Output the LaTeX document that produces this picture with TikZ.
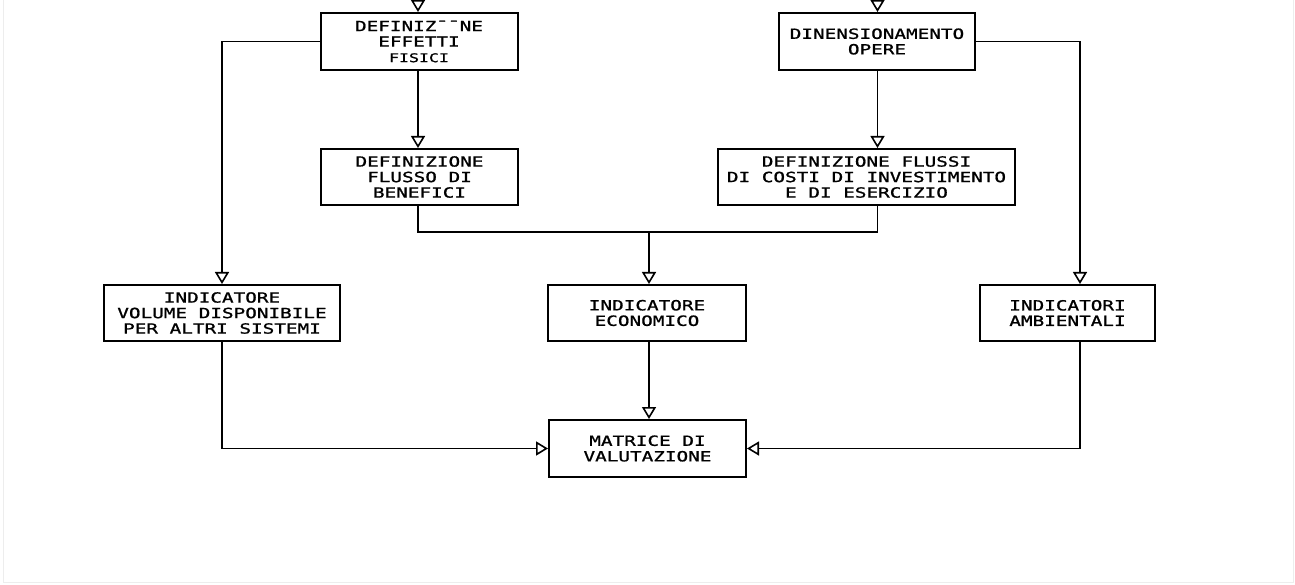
\documentclass[tikz,border=0pt]{standalone}
\usepackage{fontspec}
\newfontfamily\cad[FakeStretch=1.38,FakeBold=1.2]{DejaVu Sans Mono}
\usetikzlibrary{arrows.meta}
\begin{document}
\begin{tikzpicture}[x=1pt,y=-1pt,
  box/.style={draw,line width=2pt,rectangle,inner sep=0pt,align=center,
    font=\cad\fontsize{14}{15.5}\selectfont},
  arr/.style={line width=1.8pt,-{Triangle[open,length=12pt,width=14pt,line width=1.6pt]}},
  ln/.style={line width=1.8pt}]
\useasboundingbox (0,0) rectangle (1295,585);
\draw[black!7,line width=1pt] (3,0) -- (3,582) -- (1293,582) -- (1293,0);

\node[box,minimum width=197pt,minimum height=57pt] (b1) at (419,41.5)
  {DEFINIZ¯¯NE\\EFFETTI\\{\fontsize{12}{13}\selectfont FISICI}};
\node[box,minimum width=196pt,minimum height=57pt] (b2) at (877,41.5)
  {DINENSIONAMENTO\\OPERE};
\node[box,minimum width=197pt,minimum height=56pt] (b3) at (419.5,177)
  {DEFINIZIONE\\FLUSSO DI\\BENEFICI};
\node[box,minimum width=297pt,minimum height=56pt] (b4) at (866.5,177)
  {DEFINIZIONE FLUSSI\\DI COSTI DI INVESTIMENTO\\E DI ESERCIZIO};
\node[box,minimum width=236pt,minimum height=56pt] (b5) at (222,313)
  {INDICATORE\\VOLUME DISPONIBILE\\PER ALTRI SISTEMI};
\node[box,minimum width=198pt,minimum height=56pt] (b6) at (647,313)
  {INDICATORE\\ECONOMICO};
\node[box,minimum width=175pt,minimum height=56pt] (b7) at (1067.5,313)
  {INDICATORI\\AMBIENTALI};
\node[box,minimum width=197pt,minimum height=57pt] (b8) at (647.5,448.5)
  {MATRICE DI\\VALUTAZIONE};

\coordinate (in1) at (418,0);
\coordinate (in2) at (877.5,0);
\coordinate (j) at (649,232);
\coordinate (xr) at (1080,0);

\draw[arr] (in1) -- (in1 |- b1.north);
\draw[arr] (in2) -- (in2 |- b2.north);
\draw[arr] (in1 |- b1.south) -- (in1 |- b3.north);
\draw[arr] (b1.west) -| (b5.north);
\draw[arr] (in2 |- b2.south) -- (in2 |- b4.north);
\draw[arr] (b2.east) -| (xr |- b7.north);
\draw[ln] (in1 |- b3.south) |- (j) -| (in2 |- b4.south);
\draw[arr] (j) -- (j |- b6.north);
\draw[arr] (j |- b6.south) -- (j |- b8.north);
\draw[arr] (b5.south) |- (b8.west);
\draw[arr] (xr |- b7.south) |- (b8.east);
\end{tikzpicture}
\end{document}
